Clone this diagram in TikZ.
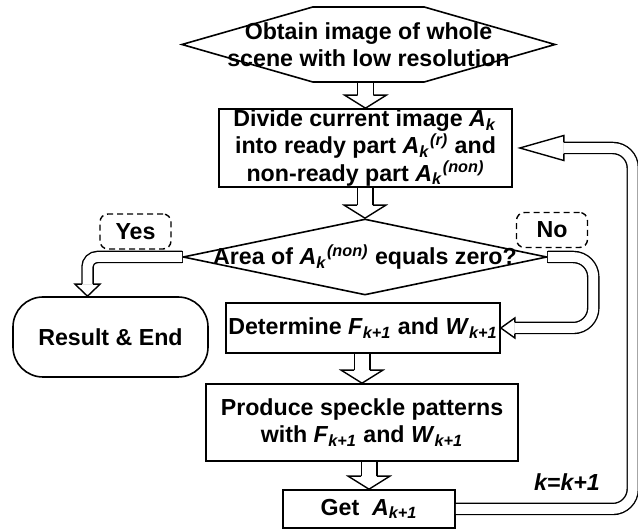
\documentclass[tikz,border=0pt]{standalone}
\usepackage{fontspec}
\setmainfont{Liberation Sans}
\usetikzlibrary{shapes,calc}

\newcommand{\Ak}[1]{\textit{A}\textsubscript{\textit{k}}\textsuperscript{\textit{#1}}}
\newcommand{\kp}[1]{\textit{#1}\textsubscript{\textit{k+1}}}
\newcommand{\blockarrow}[2]{%
  \draw[shaft] (#2 |- #1) -- ($(#2)+(0,-13)$);
  \draw[tip] ($(#2)+(-7.8,-13)$) -- ++(-13,0) -- (#2) -- ($(#2)+(20.8,-13)$) -- ++(-13,0);}

\begin{document}
\begin{tikzpicture}[x=0.5pt,y=-0.5pt,
  font=\fontsize{11.6}{13.7}\selectfont\bfseries,
  box/.style={shape=rectangle,draw=black,line width=0.8pt,align=center,inner sep=0pt},
  answer/.style={shape=rectangle,draw=black,line width=0.7pt,dash pattern=on 3pt off 2pt,rounded corners=4pt,minimum width=35.5pt,minimum height=17.5pt,inner sep=0pt},
  shaft/.style={draw=black,line width=0.7pt,double=white,double distance=7.1pt},
  band/.style={draw=black,line width=0.7pt,double=white,double distance=4.85pt},
  tip/.style={draw=black,line width=0.7pt,line join=miter}]
\useasboundingbox (0,0) rectangle (638,529);

\node[box,shape=signal,signal to=west and east,signal pointer angle=32,minimum width=186.5pt,minimum height=37.5pt](obtain) at (368.5,44.5) {\makebox[0pt]{Obtain image of whole}\\\makebox[0pt]{scene with low resolution}};
\node[box,minimum width=146.5pt,minimum height=39pt](divide) at (365.5,148) {Divide current image \Ak{}\\into ready part \Ak{(r)} and\\non-ready part \Ak{(non)}};
\node[box,shape=diamond,minimum width=182pt,minimum height=38pt](area) at (365,257) {\makebox[0pt]{Area of \Ak{(non)} equals zero?}};
\node[answer](yes) at (135.5,231.5) {Yes};
\node[answer](no) at (552,230) {No};
\node[box,rounded corners=15pt,minimum width=97.5pt,minimum height=40pt](result) at (110.5,337) {Result \& End};
\node[box,minimum width=137pt,minimum height=25pt](determine) at (363,328) {Determine \kp{F} and \kp{W}};
\node[box,minimum width=156pt,minimum height=38.5pt](produce) at (362,422.5) {Produce speckle patterns\\with \kp{F} and \kp{W}};
\node[box,minimum width=86pt,minimum height=19pt](get) at (369,509) {Get~\ \kp{A}};
\node(kinc) at (567,482) {\textit{k=k+1}};

\blockarrow{obtain.south}{divide.north}
\blockarrow{divide.south}{area.north}
\blockarrow{determine.south}{produce.north}
\blockarrow{produce.south}{get.north}

% yes branch
\draw[tip] ($(area.west)+(0,-6.2)$) -- ($(area.west)+(0,6.2)$);
\draw[band,rounded corners=5pt] (area.west) -| ($(result.north)+(-23,-12)$);
\draw[tip] ($(result.north)+(-28.55,-12)$) -- ++(-6.95,0) -- ($(result.north)+(-23,0)$) -- ($(result.north)+(-10.5,-12)$) -- ++(-6.95,0);

% no branch
\draw[tip] ($(area.east)+(0,-6.2)$) -- ($(area.east)+(0,6.2)$);
\draw[band,rounded corners=10pt] (area.east) -- ++(45.5,0) |- ($(determine.east)+(14,0)$);
\draw[tip] ($(determine.east)+(14,-5.55)$) -- ++(0,-4.45) -- (determine.east) -- ($(determine.east)+(14,10)$) -- ++(0,-4.45);

% loop back
\draw[band,rounded corners=10pt] (get.east) -| ($(divide.east)+(120,0)$) -- ($(divide.east)+(51,0)$);
\draw[tip] ($(divide.east)+(51,-5.55)$) -- ++(0,-6.95) -- ($(divide.east)+(7,0)$) -- ($(divide.east)+(51,12.5)$) -- ++(0,-6.95);
\end{tikzpicture}
\end{document}
